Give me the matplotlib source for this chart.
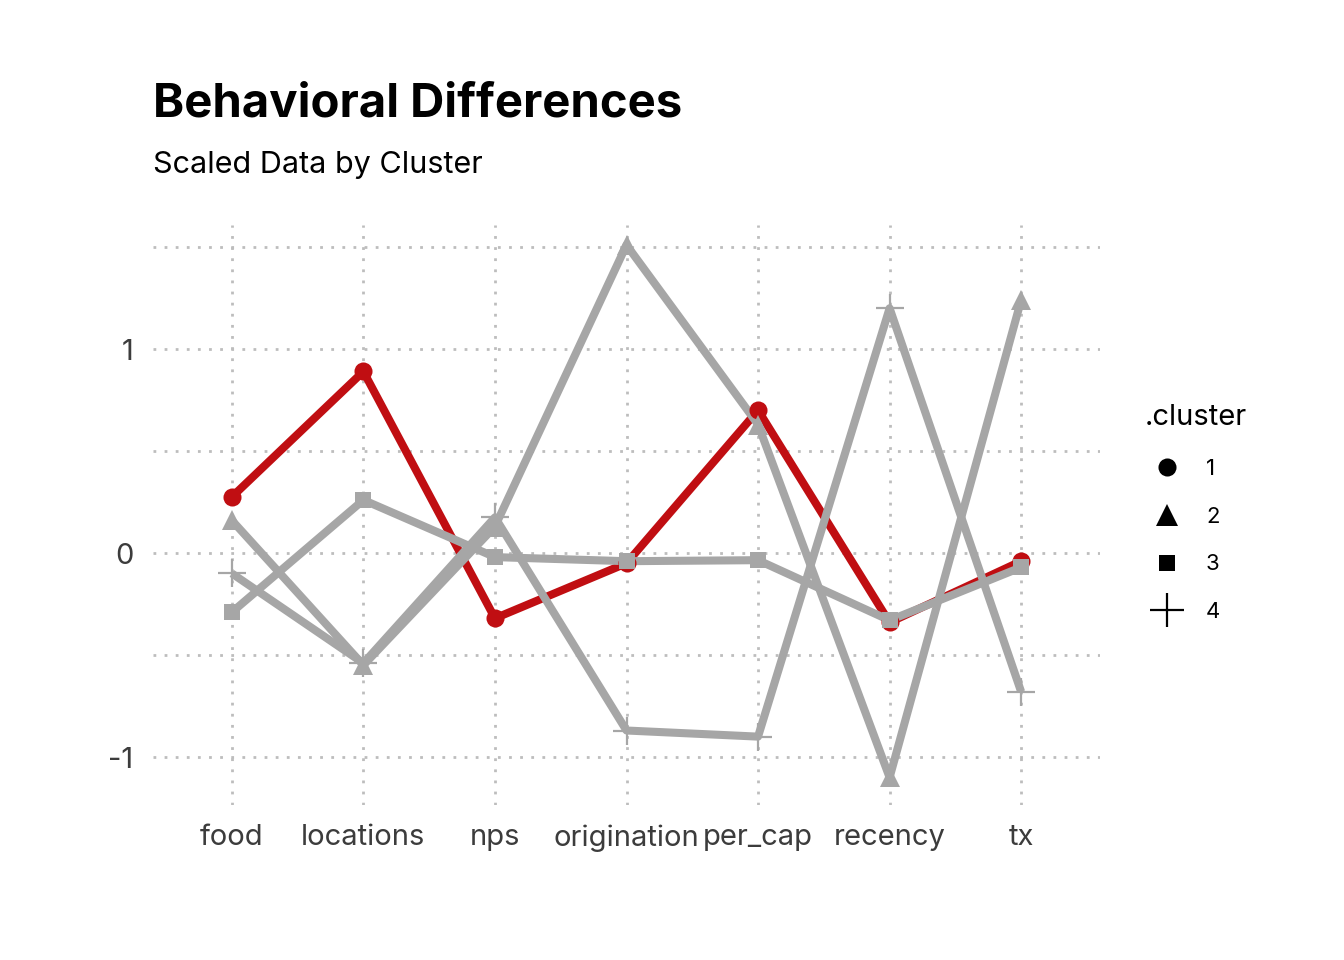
import matplotlib
matplotlib.use("Agg")
import matplotlib.pyplot as plt
from matplotlib.lines import Line2D

plt.rcParams['font.family'] = ['Inter', 'DejaVu Sans']

variables = ['food', 'locations', 'nps', 'origination', 'per_cap', 'recency', 'tx']
clusters = ['1', '2', '3', '4']

# scaled means per cluster
c1 = [0.275, 0.89, -0.32, -0.05, 0.70, -0.34, -0.04]
c2 = [0.16, -0.55, 0.13, 1.51, 0.63, -1.10, 1.24]
c3 = [-0.29, 0.26, -0.02, -0.04, -0.035, -0.33, -0.07]
c4 = [-0.10, -0.54, 0.175, -0.87, -0.90, 1.20, -0.68]
values = [c1, c2, c3, c4]

markers = ['o', '^', 's', '+']
msizes = [13, 15, 12, 20]
colors = ['#c00e12', '#a6a6a6', '#a6a6a6', '#a6a6a6']

fig = plt.figure(figsize=(13.44, 9.6), dpi=100)
ax = fig.add_axes([0.1138, 0.1615, 0.7047, 0.6041])

x = list(range(len(variables)))
for vals, col in zip(values, colors):
    ax.plot(x, vals, color=col, lw=5.8, zorder=2, solid_capstyle='butt')
for vals, col, m, ms in zip(values, colors, markers, msizes):
    ax.plot(x, vals, ls='none', marker=m, markersize=ms, color=col,
            markeredgewidth=1.6 if m == '+' else 0, zorder=3)

ax.set_xlim(-0.6, len(variables) - 1 + 0.6)
ax.set_ylim(-1.235, 1.608)
ax.set_xticks(x)
ax.set_xticklabels(variables)
ax.set_yticks([-1, 0, 1])
ax.set_yticklabels(['-1', '0', '1'])
ax.set_yticks([-0.5, 0.5, 1.5], minor=True)
ax.grid(True, which='both', color='#bdbdbd', lw=2, ls=(0, (1, 3)))
ax.set_axisbelow(True)
ax.tick_params(which='both', length=0, labelsize=21, labelcolor='#3c3c3c')
ax.tick_params(axis='x', pad=14)
ax.tick_params(axis='y', pad=14)
for s in ax.spines.values():
    s.set_visible(False)

fig.text(0.1138, 0.879, 'Behavioral Differences', fontsize=34, fontweight='bold', ha='left', va='baseline')
fig.text(0.1138, 0.82, 'Scaled Data by Cluster', fontsize=22, ha='left', va='baseline')

handles = [Line2D([], [], ls='none', marker=m, color='black', markersize=s,
                  markeredgewidth=1.6 if m == '+' else 0)
           for m, s in zip(markers, [13, 16, 12, 24])]
leg = fig.legend(handles, clusters, title='.cluster', loc='upper left',
                 bbox_to_anchor=(0.837, 0.6), frameon=False, fontsize=16,
                 title_fontsize=21, labelspacing=1.25, handletextpad=0.75)
leg._legend_box.align = 'left'

fig.savefig('out.png', dpi=100)
